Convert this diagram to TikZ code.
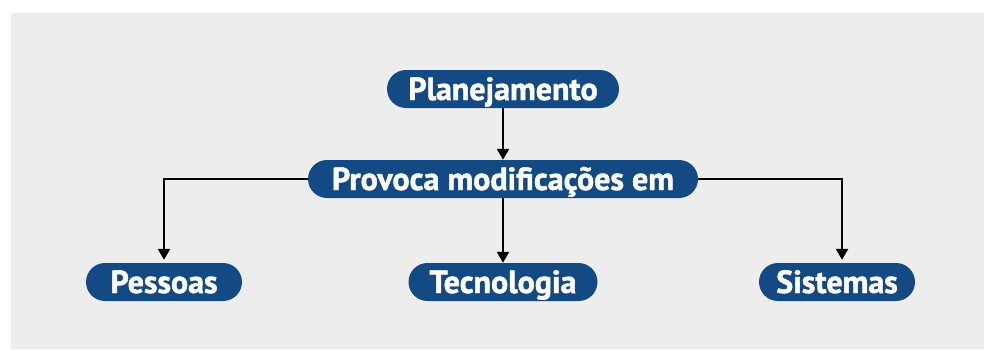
\documentclass[tikz,border=0pt]{standalone}
\usepackage{fontspec}
\setmainfont{PT Sans}[BoldFeatures={FakeBold=1.5}]
\usetikzlibrary{arrows.meta}
\definecolor{caixa}{RGB}{19,74,132}
\definecolor{fundo}{RGB}{237,237,237}
\tikzset{
  caixa/.style={fill=caixa, text=white, rounded corners=19pt, minimum height=38pt,
    inner xsep=12pt, inner ysep=0pt, text height=22pt, text depth=0pt,
    font=\bfseries\fontsize{32}{32}\selectfont},
  seta/.style={line width=2.5pt, -{Triangle[width=12pt,length=11pt]}}
}
\begin{document}
\begin{tikzpicture}[x=1pt,y=1pt]
\useasboundingbox (0,0) rectangle (984,349);
\fill[fundo] (11,0) rectangle (984,336);
% caixas
\node[caixa, minimum width=232pt] (plan) at (503,260) {Planejamento};
\node[caixa, minimum width=390pt] (prov) at (503,170) {Provoca modificações em};
\node[caixa, minimum width=156pt] (pess) at (164,67) {Pessoas};
\node[caixa, minimum width=189pt] (tecn) at (503,67) {Tecnologia};
\node[caixa, minimum width=156pt] (sist) at (837,67) {Sistemas};
% setas
\draw[seta] (plan) -- (prov);
\draw[seta] (prov) -- (tecn);
\draw[seta] (prov.west) -| ([yshift=3pt]pess.north);
\draw[seta] (prov.east) -| ([xshift=5pt,yshift=3pt]sist.north);
\end{tikzpicture}
\end{document}
